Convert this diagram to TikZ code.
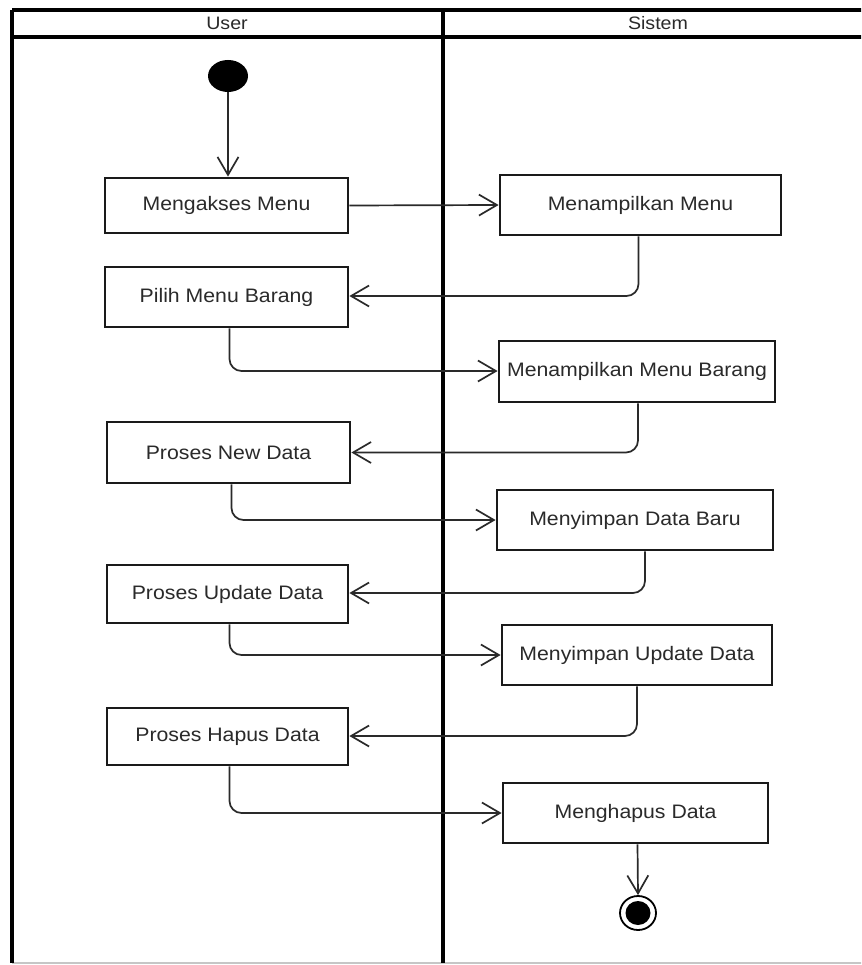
\documentclass[tikz,border=0pt]{standalone}
\usepackage{fontspec}
\setmainfont{Liberation Sans}[FakeStretch=1.09]
\usetikzlibrary{arrows.meta,shapes.geometric}
\definecolor{linec}{HTML}{1A1A1A}
\definecolor{connc}{HTML}{2A2A2A}
\definecolor{txtc}{HTML}{2A2A2A}
\tikzset{
  act/.style={draw=linec, line width=2.8pt, fill=white, text=txtc,
    font=\fontsize{19.5}{23}\selectfont, inner sep=0pt, anchor=center},
  conn/.style={draw=connc, line width=1.7pt, rounded corners=12pt,
    -{Straight Barb[length=18pt,width=21pt,line width=1.7pt]}},
  lane/.style={draw=black, line width=3.2pt},
  hdr/.style={text=txtc, font=\fontsize{18}{21}\selectfont, inner sep=0pt}
}
\begin{document}
\begin{tikzpicture}[x=1pt,y=-1pt]
\useasboundingbox (0,0) rectangle (861,965);
\fill[white] (0,0) rectangle (861,965);
\begin{scope}
\clip (0,0) rectangle (861,965);
% swimlane frame
\draw[draw=gray!45, line width=1.5pt] (12,963) -- (875,963);
\draw[lane] (12,10) -- (875,10);
\draw[lane] (12,37) -- (875,37);
\draw[lane] (12,10) -- (12,963);
\draw[lane] (443,10) -- (443,963);
\end{scope}
\node[hdr] (hu) at (227,23) {User};
\node[hdr] (hs) at (658,23) {Sistem};
% start
\node[ellipse, fill=black, minimum width=40pt, minimum height=32pt, inner sep=0pt] (start) at (228,76) {};
% activities
\node[act, minimum width=243pt, minimum height=55pt] (A) at (226.5,205.5) {Mengakses Menu};
\node[act, minimum width=281pt, minimum height=60pt] (B) at (640.5,205) {Menampilkan Menu};
\node[act, minimum width=243pt, minimum height=60pt] (C) at (226.5,297) {Pilih Menu Barang};
\node[act, minimum width=276pt, minimum height=61pt] (D) at (637,371.5) {Menampilkan Menu Barang};
\node[act, minimum width=243pt, minimum height=61pt] (E) at (228.5,452.5) {Proses New Data};
\node[act, minimum width=276pt, minimum height=60pt] (F) at (635,520) {Menyimpan Data Baru};
\node[act, minimum width=241pt, minimum height=58pt] (G) at (227.5,594) {Proses Update Data};
\node[act, minimum width=270pt, minimum height=60pt] (H) at (637,655) {Menyimpan Update Data};
\node[act, minimum width=241pt, minimum height=57pt] (I) at (227.5,736.5) {Proses Hapus Data};
\node[act, minimum width=265pt, minimum height=60pt] (J) at (635.5,813) {Menghapus Data};
% end
\node[ellipse, draw=black, line width=1.8pt, fill=white, minimum width=36pt, minimum height=34pt, inner sep=0pt] (fin) at (638,913) {};
\node[ellipse, fill=black, minimum width=25pt, minimum height=24pt, inner sep=0pt] (finin) at (fin.center) {};
% connectors
\draw[conn] (start) -- (start |- A.north);
\draw[conn] (A.east) -- (B.west);
\draw[conn] ([xshift=-2pt]B.south) |- ([yshift=1pt]C.east);
\draw[conn] ([xshift=3pt]C.south) |- ([yshift=0.5pt]D.west);
\draw[conn] ([xshift=1pt]D.south) |- (E.east);
\draw[conn] ([xshift=3pt]E.south) |- (F.west);
\draw[conn] ([xshift=10pt]F.south) |- ([yshift=1pt]G.east);
\draw[conn] ([xshift=2pt]G.south) |- (H.west);
\draw[conn] (H.south) |- ([yshift=0.5pt]I.east);
\draw[conn] ([xshift=2pt]I.south) |- (J.west);
\draw[conn] ([xshift=2pt]J.south) -- (fin.north);
\end{tikzpicture}
\end{document}
